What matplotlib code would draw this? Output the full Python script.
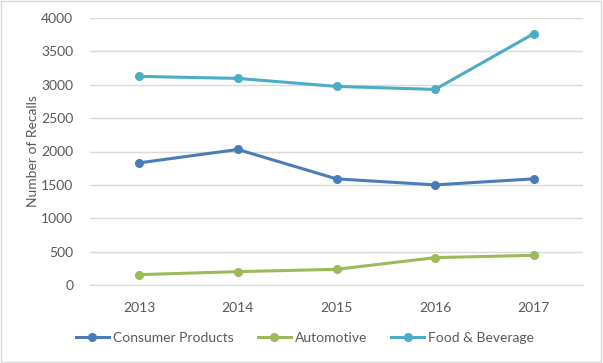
import matplotlib
matplotlib.use("Agg")
import matplotlib.pyplot as plt
from matplotlib.patches import Rectangle

years = ["2013", "2014", "2015", "2016", "2017"]
consumer = [1830, 2030, 1590, 1500, 1590]
automotive = [155, 200, 235, 410, 445]
food = [3125, 3095, 2975, 2930, 3765]
yticks = [0, 500, 1000, 1500, 2000, 2500, 3000, 3500, 4000]

plt.rcParams['font.family'] = ['Lato', 'DejaVu Sans']

fig = plt.figure(figsize=(6.03, 3.63), dpi=100)
ax = fig.add_axes([90/603, 1-285/363, (583-90)/603, (285-18)/363])

x = list(range(len(years)))
series = [("Consumer Products", consumer, "#4A7DB8"),
          ("Automotive", automotive, "#9BBB59"),
          ("Food & Beverage", food, "#4BACC6")]
for name, vals, c in series:
    ax.plot(x, vals, color=c, lw=2.2, marker='o', ms=5.5, label=name, zorder=3)

ax.set_xlim(-0.5, len(years)-0.5)
ax.set_ylim(0, 4000)
ax.set_yticks(yticks)
ax.set_yticklabels([str(v) for v in yticks])
ax.set_xticks(x)
ax.set_xticklabels(years)
ax.grid(axis='y', color='#D9D9D9', lw=1)
ax.set_axisbelow(True)
for s in ['top', 'right', 'left']:
    ax.spines[s].set_visible(False)
ax.spines['bottom'].set_color('#D9D9D9')
ax.tick_params(axis='both', length=0, colors='#595959', labelsize=10)
ax.tick_params(axis='x', pad=12)
ax.tick_params(axis='y', pad=12)
fig.text(33/603, 1-151/363, "Number of Recalls", rotation=90, ha='center', va='center',
         color='#595959', fontsize=10)

fig.legend(loc='center', bbox_to_anchor=(305/603, 1-338/363), ncol=3, frameon=False,
           fontsize=10, labelcolor='#595959', handlelength=2.4, columnspacing=1.7,
           handletextpad=0.3)

fig.patches.append(Rectangle((0.002, 0.003), 0.995, 0.994, transform=fig.transFigure,
                             fill=False, edgecolor='#D9D9D9', lw=1))
fig.savefig("out.png", dpi=100)
